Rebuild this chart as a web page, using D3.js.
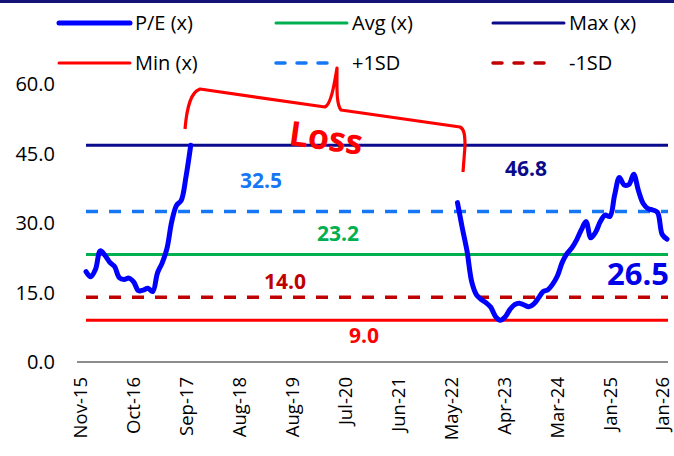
<!DOCTYPE html>
<html>
<head>
<meta charset="utf-8">
<script src="https://cdn.jsdelivr.net/npm/d3@7"></script>
<style>
  html, body { margin: 0; padding: 0; background: #fff; }
  svg { display: block; font-family: "Open Sans", "Noto Sans", sans-serif; }
</style>
</head>
<body>
<svg id="chart" width="674" height="456"></svg>
<script>
// ---------- DATA ----------
const xTickLabels = ["Nov-15","Oct-16","Sep-17","Aug-18","Aug-19","Jul-20","Jun-21","May-22","Apr-23","Mar-24","Jan-25","Jan-26"];
const yTicks = [0, 15, 30, 45, 60];
const monthCount = 123; // Nov-15 .. Jan-26 monthly points
// P/E before the loss period (Nov-15 .. Sep-17)
const peBefore = [19.5, 18.4, 20.0, 24.0, 23.0, 21.5, 20.6, 18.2, 17.8, 18.1, 17.3, 15.4,
                  15.5, 15.9, 15.2, 19.2, 21.4, 24.5, 30.3, 33.8, 34.9, 40.0, 46.8];
const peBeforeStart = 0;
// P/E after the loss period (May-22 .. Jan-26)
const peAfter = [34.4, 29.0, 24.0, 17.3, 14.5, 13.5, 12.8, 11.8, 9.8, 9.0, 9.7, 11.3,
                 12.4, 12.7, 12.3, 11.9, 12.5, 13.8, 15.2, 15.6, 16.8, 18.6, 21.5, 23.4,
                 24.6, 26.3, 28.5, 30.3, 26.8, 28.0, 30.3, 31.7, 31.4, 36.0, 39.8, 38.2,
                 38.3, 40.5, 37.0, 34.2, 33.1, 32.8, 32.3, 27.5, 26.5];
const peAfterStart = 78;
const refNames  = ["Max (x)", "+1SD", "Avg (x)", "-1SD", "Min (x)"];
const refValues = [46.8, 32.5, 23.2, 14.0, 9.0];
const lastValue = 26.5;
const annotationText = "Loss";

// ---------- STYLES / LAYOUT ----------
const styles = {
  "P/E (x)": { color: "#0000FF", width: 5,   dash: null },
  "Avg (x)": { color: "#00B050", width: 3,   dash: null },
  "Max (x)": { color: "#0A0A8C", width: 3,   dash: null },
  "Min (x)": { color: "#FF0000", width: 3,   dash: null },
  "+1SD":    { color: "#1677F5", width: 3.5, dash: "12,11" },
  "-1SD":    { color: "#C00000", width: 3.5, dash: "12,11" }
};
const legendOrder = ["P/E (x)", "Avg (x)", "Max (x)", "Min (x)", "+1SD", "-1SD"];
const labelStyle = {
  "Max (x)": { dx: 526, dy: 176, color: "#0A0A8C" },
  "+1SD":    { dx: 261, dy: 188, color: "#1677F5" },
  "Avg (x)": { dx: 338, dy: 241, color: "#00B050" },
  "-1SD":    { dx: 285, dy: 289, color: "#C00000" },
  "Min (x)": { dx: 364, dy: 343, color: "#FF0000" }
};

const svg = d3.select("#chart");
const W = 674, H = 456;

const x = d3.scaleLinear().domain([0, monthCount - 1]).range([86, 667]);
const y = d3.scaleLinear().domain([0, 60]).range([362, 84]);
const xLab = d3.scalePoint().domain(xTickLabels).range([81, 663]);

// top border
svg.append("rect").attr("x", 0).attr("y", 0).attr("width", W).attr("height", 3).attr("fill", "#141478");

// legend
const legend = svg.append("g");
legendOrder.forEach((name, i) => {
  const col = i % 3, row = Math.floor(i / 3);
  const lx = 59 + col * 217, ly = 23 + row * 40;
  const s = styles[name];
  const g = legend.append("g");
  g.append("line").attr("x1", lx).attr("x2", s.dash ? lx + 60 : lx + 71)
    .attr("y1", ly).attr("y2", ly)
    .attr("stroke", s.color).attr("stroke-width", s.width)
    .attr("stroke-linecap", "round")
    .attr("stroke-dasharray", s.dash ? "9,12" : null);
  g.append("text").attr("x", lx + 76).attr("y", ly).attr("dy", "0.35em")
    .attr("font-size", 20).attr("fill", "#000").text(name);
});

// y axis labels
svg.append("g").selectAll("text").data(yTicks).join("text")
  .attr("x", 55).attr("y", d => y(d)).attr("dy", "0.35em")
  .attr("text-anchor", "end").attr("font-size", 20).attr("fill", "#000")
  .text(d => d.toFixed(1));

// x axis line
svg.append("line").attr("x1", 77).attr("x2", 668).attr("y1", y(0)).attr("y2", y(0))
  .attr("stroke", "#8C8C8C").attr("stroke-width", 2);

// x tick labels (rotated)
svg.append("g").selectAll("text").data(xTickLabels).join("text")
  .attr("transform", d => `translate(${xLab(d)},377) rotate(-90)`)
  .attr("dy", "0.35em").attr("text-anchor", "end")
  .attr("font-size", 18.5).attr("fill", "#000")
  .text(d => d);

// reference lines
refNames.forEach((name, i) => {
  const s = styles[name];
  svg.append("line").attr("x1", 86).attr("x2", 668)
    .attr("y1", y(refValues[i])).attr("y2", y(refValues[i]))
    .attr("stroke", s.color).attr("stroke-width", s.width)
    .attr("stroke-dasharray", s.dash);
  const ls = labelStyle[name];
  svg.append("text").attr("x", ls.dx).attr("y", ls.dy)
    .attr("text-anchor", "middle").attr("font-size", 21).attr("font-weight", "bold")
    .attr("fill", ls.color).text(refValues[i].toFixed(1));
});

// P/E line
const pts = [];
peBefore.forEach((v, i) => pts.push({ i: peBeforeStart + i, v }));
pts.push({ i: peBefore.length, v: null });
peAfter.forEach((v, i) => pts.push({ i: peAfterStart + i, v }));
const line = d3.line().defined(d => d.v != null)
  .x(d => x(d.i)).y(d => y(d.v)).curve(d3.curveCatmullRom.alpha(0.5));
svg.append("path").datum(pts).attr("d", line)
  .attr("fill", "none").attr("stroke", styles["P/E (x)"].color)
  .attr("stroke-width", 5).attr("stroke-linejoin", "round").attr("stroke-linecap", "round");

// last value label
svg.append("text").attr("x", 638).attr("y", 285).attr("text-anchor", "middle")
  .attr("font-size", 31).attr("font-weight", "bold").attr("fill", "#0000E8")
  .text(lastValue.toFixed(1));

// Loss brace annotation
svg.append("path")
  .attr("d", "M185,129 C187,106 191,92 200,89 L325,107 C331,104 334,86 337,68 C337,86 336,104 341,110 L460,127 C464,129 465,134 465,146 L463,172")
  .attr("fill", "none").attr("stroke", "#FF0000").attr("stroke-width", 3.2)
  .attr("stroke-linejoin", "round");
svg.append("text").attr("transform", "translate(326,138) rotate(8)")
  .attr("text-anchor", "middle").attr("dy", "0.35em")
  .attr("font-size", 34).attr("font-weight", "bold").attr("fill", "#FF0000")
  .text(annotationText);
</script>
</body>
</html>
